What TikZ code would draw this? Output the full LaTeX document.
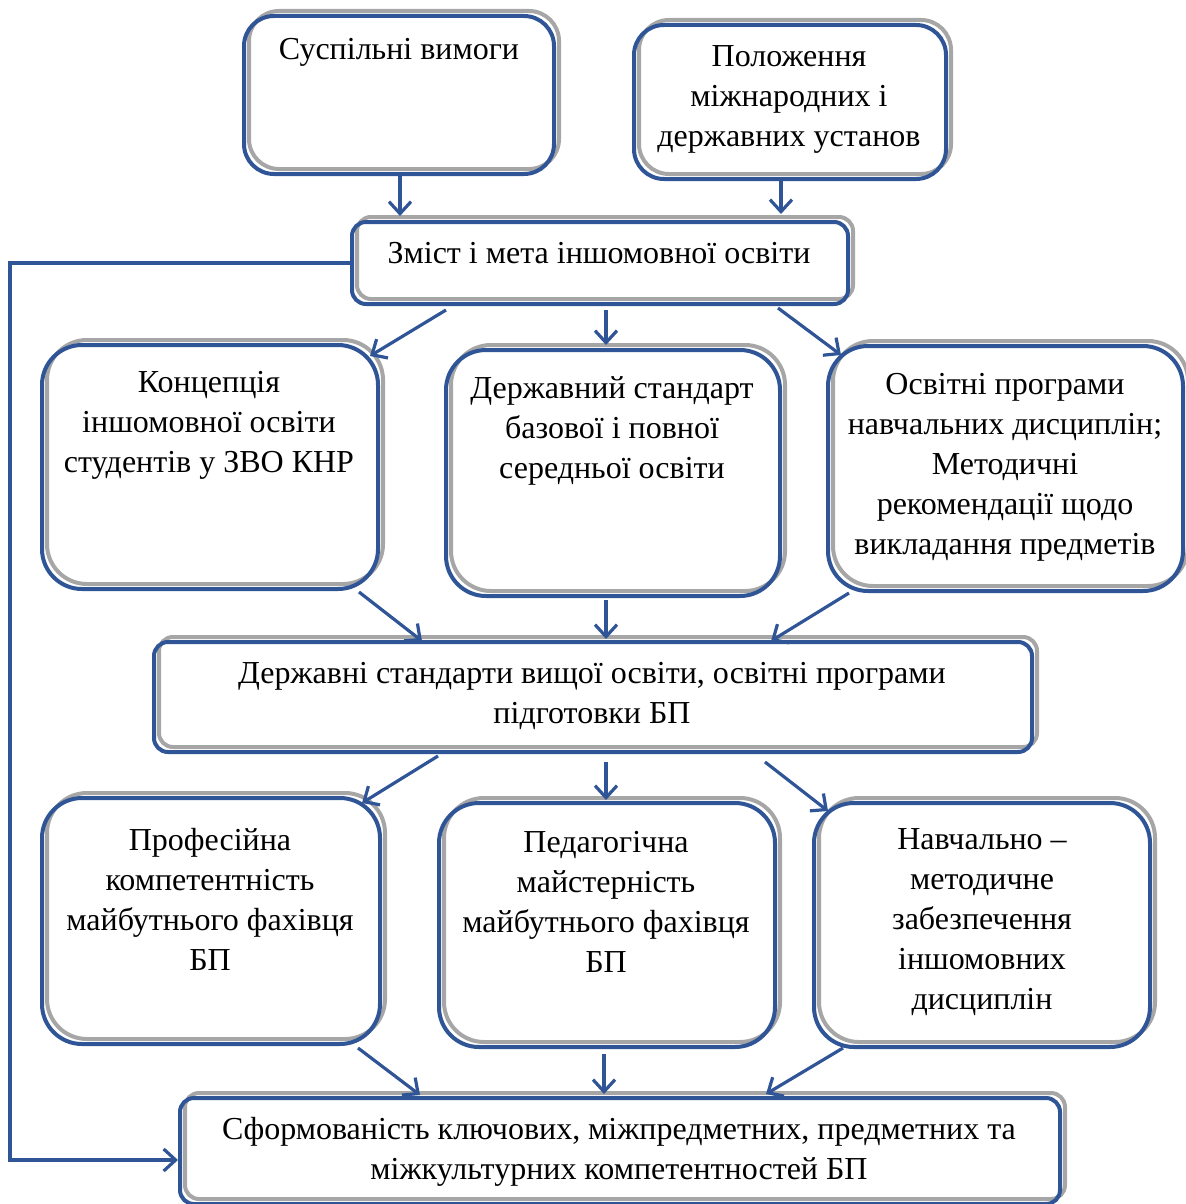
\documentclass[tikz,border=0pt]{standalone}
\usepackage{fontspec}
\setmainfont{Liberation Serif}
\usetikzlibrary{fit,arrows.meta,calc}
\definecolor{bblue}{RGB}{47,85,151}
\definecolor{bgray}{RGB}{166,166,166}
\tikzset{
  box/.style={draw=bblue, line width=2pt, inner sep=0pt, rounded corners=#1},
  box/.default=20pt,
  gbox/.style={draw=bgray, line width=2pt, rounded corners=#1},
  gbox/.default=20pt,
  txt/.style={align=center, font=\fontsize{16}{20}\selectfont, inner sep=0pt, yshift=-2pt},
  arr/.style={draw=bblue, line width=1.6pt, -{Straight Barb[length=6pt,width=11pt,line width=1.6pt]}}
}
\newcommand{\gframe}[2][20pt]{%
  \draw[gbox=#1] ([shift={(5,-5)}]#2.south west) rectangle ([shift={(5,-5)}]#2.north east);}
\begin{document}
\begin{tikzpicture}[x=0.5pt,y=-0.5pt]
\useasboundingbox (0,0) rectangle (1186,1204);
% gray frames drawn first via nodes below
\node[box=15pt, draw=none, fit={(246,18) (552,172)}] (a) {};
\node[box=15pt, draw=none, fit={(636,27) (944,177)}] (b) {};
\node[box=7pt, draw=none, fit={(354,224) (846,302)}] (c) {};
\node[box, draw=none, fit={(44,347) (376,587)}] (d) {};
\node[box, draw=none, fit={(448,352) (778,594)}] (e) {};
\node[box, draw=none, fit={(830,348) (1181,589)}] (f) {};
\node[box=7pt, draw=none, fit={(156,644) (1030,750)}] (g) {};
\node[box, draw=none, fit={(44,800) (378,1042)}] (h) {};
\node[box, draw=none, fit={(441,805) (773,1045)}] (i) {};
\node[box, draw=none, fit={(816,805) (1148,1045)}] (j) {};
\node[box=7pt, draw=none, fit={(182,1100) (1058,1202)}] (k) {};
\gframe[15pt]{a}
\gframe[15pt]{b}
\gframe[7pt]{c}
\gframe{d}
\gframe{e}
\gframe{f}
\gframe[7pt]{g}
\gframe{h}
\gframe{i}
\gframe{j}
\gframe[7pt]{k}
% blue frames
\foreach \n/\r in {a/15pt,b/15pt,c/7pt,d/20pt,e/20pt,f/20pt,g/7pt,h/20pt,i/20pt,j/20pt,k/7pt}
  \draw[box=\r] (\n.south west) rectangle (\n.north east);
% texts
\node[txt] (at) at (399,48) {Суспільні вимоги};
\node[txt] (bt) at (789,95) {Положення\\міжнародних і\\державних установ};
\node[txt] (ct) at (599,249) {Зміст і мета іншомовної освіти};
\node[txt] (dt) at (209,421) {Концепція\\іншомовної освіти\\студентів у ЗВО КНР};
\node[txt] (et) at (612,427) {Державний стандарт\\базової і повної\\середньої освіти};
\node[txt] (ft) at (1005,463) {Освітні програми\\навчальних дисциплін;\\Методичні\\рекомендації щодо\\викладання предметів};
\node[txt] (gt) at (592,692) {Державні стандарти вищої освіти, освітні програми\\підготовки БП};
\node[txt] (ht) at (210,895) {Професійна\\компетентність\\майбутнього фахівця\\БП};
\node[txt] (it) at (606,898) {Педагогічна\\майстерність\\майбутнього фахівця\\БП};
\node[txt] (jt) at (982,918) {Навчально –\\методичне\\забезпечення\\іншомовних\\дисциплін};
\node[txt] (kt) at (619,1148) {Сформованість ключових, міжпредметних, предметних та\\міжкультурних компетентностей БП};
% connectors
\draw[arr] ([shift={(1,0)}]a.south) -- ([shift={(-200,-6)}]c.north);
\draw[arr] ([shift={(-9,0)}]b.south) -- ([shift={(181,-8)}]c.north);
\draw[arr] ([shift={(-154,6)}]c.south) -- ([shift={(-8,11)}]d.north east);
\draw[arr] ([shift={(6,6)}]c.south) -- ([shift={(-7,-5)}]e.north);
\draw[arr] ([shift={(178,4)}]c.south) -- ([shift={(13,9)}]f.north west);
\draw[arr] ([shift={(-19,3)}]d.south east) -- ([shift={(-171,-1)}]g.north);
\draw[arr] ([shift={(-7,4)}]e.south) -- ([shift={(13,-3)}]g.north);
\draw[arr] ([shift={(21,2)}]f.south west) -- ([shift={(178,-1)}]g.north);
\draw[arr] ([shift={(-155,4)}]g.south) -- ([shift={(-18,5)}]h.north east);
\draw[arr] ([shift={(13,10)}]g.south) -- ([shift={(-1,-3)}]i.north);
\draw[arr] ([shift={(172,10)}]g.south) -- ([shift={(14,8)}]j.north west);
\draw[arr] ([shift={(-22,4)}]h.south east) -- ([shift={(-200,-3)}]k.north);
\draw[arr] ([shift={(-3,7)}]i.south) -- ([shift={(-16,-4)}]k.north);
\draw[arr] ([shift={(29,1)}]j.south west) -- ([shift={(146,-4)}]k.north);
\draw[arr] (c.west) -- ++(-342,0) |- ([shift={(-2,9)}]k.west);
\end{tikzpicture}
\end{document}
